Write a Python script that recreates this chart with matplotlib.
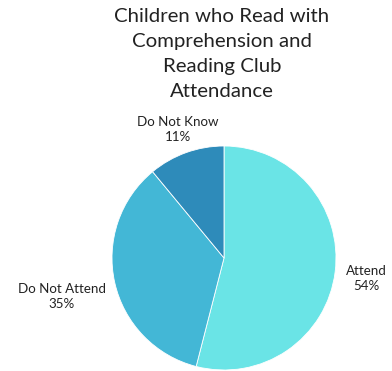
import numpy as np
import matplotlib.pyplot as plt
from matplotlib.transforms import offset_copy

plt.rcParams['font.family'] = ['Lato', 'DejaVu Sans']

# Reading club attendance shares
categories = ['Attend', 'Do Not Attend', 'Do Not Know']
shares = [54, 35, 11]
colors = ['#6ae4e6', '#43b7d6', '#2e8bba']

W, H = 392, 371
fig = plt.figure(figsize=(W / 100, H / 100), dpi=100)

# axes sized so the pie sits low and centred under the title
cx, cy, r = 224, 258, 112
ax = fig.add_axes([(cx - r) / W, (H - cy - r) / H, 2 * r / W, 2 * r / H])

wedges, _ = ax.pie(shares, colors=colors, startangle=90, counterclock=False,
                   radius=1, wedgeprops=dict(edgecolor='white', linewidth=0.6))
ax.set_xlim(-1, 1)
ax.set_ylim(-1, 1)
ax.set_aspect('equal')
ax.axis('off')

renderer = fig.canvas.get_renderer()

# outside labels: anchored just beyond the rim, pushed outward by half the box
for w, name, val in zip(wedges, categories, shares):
    ang = np.deg2rad((w.theta1 + w.theta2) / 2)
    c, s = np.cos(ang), np.sin(ang)
    t = ax.text(1.1 * c, 1.1 * s, f'{name}\n{val}%', ha='center', va='center',
                multialignment='center', fontsize=9.6, color='#222222',
                linespacing=1.3, clip_on=False)
    bb = t.get_window_extent(renderer)
    dx = bb.width / 2 * c * abs(c) * 72 / fig.dpi
    dy = (bb.height / 2 * s + (64 * s + 5) * (s < 0)) * 72 / fig.dpi
    t.set_transform(offset_copy(ax.transData, fig=fig, x=dx, y=dy, units='points'))

fig.text(222 / W, 1 - 8 / H,
         'Children who Read with\nComprehension and\nReading Club\nAttendance',
         ha='center', va='top', fontsize=14.7, color='#222222', linespacing=1.56)

fig.savefig('out.png', dpi=100)
